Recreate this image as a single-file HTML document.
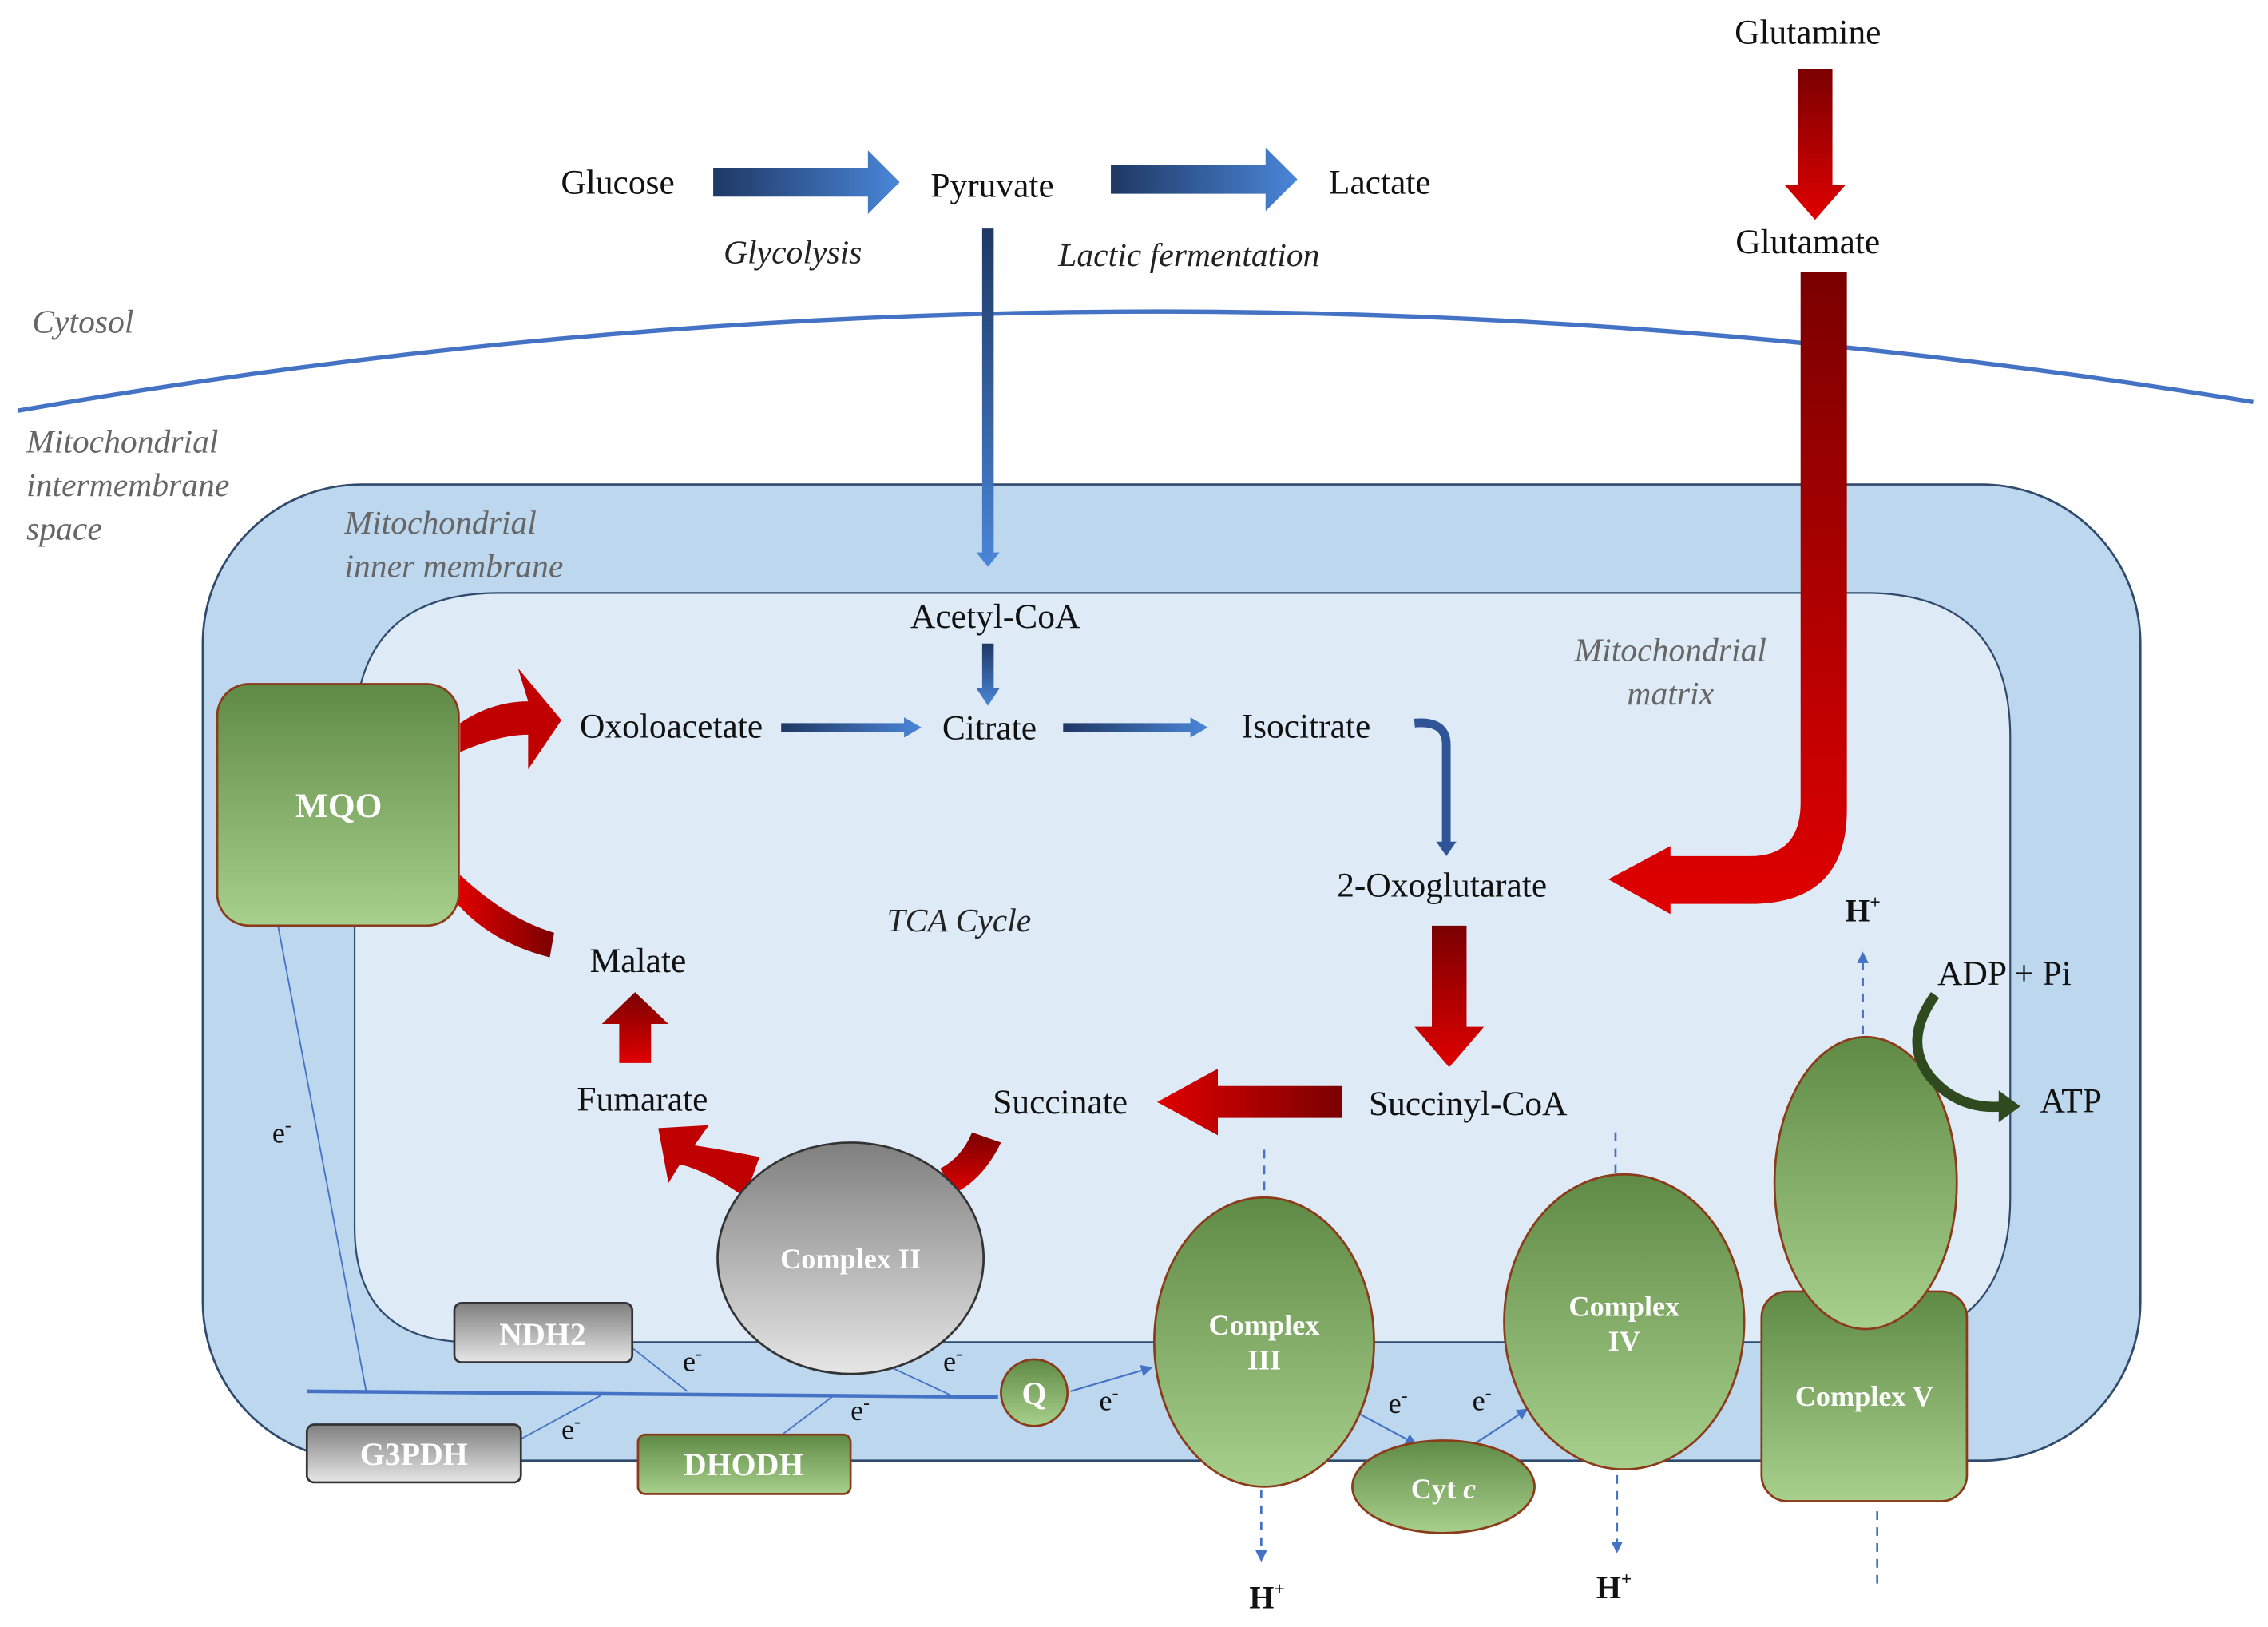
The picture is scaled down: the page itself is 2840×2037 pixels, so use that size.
<!DOCTYPE html>
<html><head><meta charset="utf-8"><style>
html,body{margin:0;padding:0;background:#fff;}
svg{display:block;}
text{font-family:"Liberation Serif",serif;}
</style></head><body>
<svg width="2840" height="2037" viewBox="0 0 1568 1125" xmlns="http://www.w3.org/2000/svg">
<defs>
<linearGradient id="bl" x1="0" x2="1" y1="0" y2="0"><stop offset="0" stop-color="#1f3864"/><stop offset="1" stop-color="#4a86d8"/></linearGradient>
<linearGradient id="blv" x1="0" x2="0" y1="0" y2="1"><stop offset="0" stop-color="#1f3864"/><stop offset="1" stop-color="#4a86d8"/></linearGradient>
<linearGradient id="rdv" x1="0" x2="0" y1="0" y2="1"><stop offset="0" stop-color="#7a0000"/><stop offset="1" stop-color="#e00000"/></linearGradient>
<linearGradient id="rdh" x1="1" x2="0" y1="0" y2="0"><stop offset="0" stop-color="#7a0000"/><stop offset="1" stop-color="#e00000"/></linearGradient>
<linearGradient id="gr" x1="0" x2="0" y1="0" y2="1"><stop offset="0" stop-color="#5f8a45"/><stop offset="1" stop-color="#a8d08d"/></linearGradient>
<linearGradient id="gy" x1="0" x2="0" y1="0" y2="1"><stop offset="0" stop-color="#7f7f7f"/><stop offset="1" stop-color="#e6e6e6"/></linearGradient>
<marker id="ab" markerWidth="8" markerHeight="8" refX="6" refY="4" orient="auto" markerUnits="userSpaceOnUse"><path d="M0,0 L8,4 L0,8 Z" fill="#4472c4"/></marker>
</defs>
<path d="M12,284 Q780,150 1558,278" fill="none" stroke="#4472c4" stroke-width="3"/>
<rect x="140" y="335" width="1340" height="675" rx="110" fill="#bdd7ee" stroke="#2f4a6d" stroke-width="1.5"/>
<path d="M245,510 Q245,410 345,410 L1290,410 Q1390,410 1390,510 L1390,828 Q1390,928 1290,928 L325,928 Q245,928 245,848 Z" fill="#deebf7" stroke="#2f4a6d" stroke-width="1.2"/>

<g font-style="italic" fill="#666" font-size="23">
<text x="22" y="230">Cytosol</text>
<text x="18" y="313">Mitochondrial</text><text x="18" y="343">intermembrane</text><text x="18" y="373">space</text>
<text x="238" y="369">Mitochondrial</text><text x="238" y="399">inner membrane</text>
<text x="1155" y="457" text-anchor="middle">Mitochondrial</text><text x="1155" y="487" text-anchor="middle">matrix</text>
</g>
<g font-style="italic" fill="#222" font-size="23">
<text x="548" y="182" text-anchor="middle">Glycolysis</text>
<text x="822" y="184" text-anchor="middle">Lactic fermentation</text>
<text x="663" y="644" text-anchor="middle">TCA Cycle</text>
</g>
<g fill="#111" font-size="24" text-anchor="middle">
<text x="427" y="134">Glucose</text><text x="686" y="136">Pyruvate</text><text x="954" y="134">Lactate</text>
<text x="1250" y="30">Glutamine</text><text x="1250" y="175">Glutamate</text>
<text x="688" y="434">Acetyl-CoA</text><text x="464" y="510">Oxoloacetate</text><text x="684" y="511">Citrate</text>
<text x="903" y="510">Isocitrate</text><text x="997" y="620">2-Oxoglutarate</text><text x="441" y="672">Malate</text>
<text x="444" y="768">Fumarate</text><text x="733" y="770">Succinate</text><text x="1015" y="771">Succinyl-CoA</text>
<text x="1386" y="681">ADP + Pi</text><text x="1432" y="769">ATP</text>
</g>

<path d="M493,116 L600,116 L600,104 L622,126 L600,148 L600,136 L493,136 Z" fill="url(#bl)"/>
<path d="M768,114 L875,114 L875,102 L897,124 L875,146 L875,134 L768,134 Z" fill="url(#bl)"/>
<g fill="url(#bl)">
<path d="M679,158 L687,158 L687,382 L691,382 L683,392 L675,382 L679,382 Z" fill="url(#blv)"/>
<path d="M679,445 L687,445 L687,476 L691,476 L683,488 L675,476 L679,476 Z" fill="url(#blv)"/>
<path d="M540,500 L625,500 L625,496 L637,503 L625,510 L625,506 L540,506 Z"/>
<path d="M735,500 L823,500 L823,496 L835,503 L823,510 L823,506 L735,506 Z"/>
</g>
<path d="M978,500 Q1000,498 1000,515 L1000,585" fill="none" stroke="#2f5597" stroke-width="6"/>
<path d="M993,582 L1007,582 L1000,592 Z" fill="#2f5597"/>

<path d="M1243,48 L1267,48 L1267,128 L1276,128 L1255,152 L1234,128 L1243,128 Z" fill="url(#rdv)"/>
<path d="M1245,188 L1277,188 L1277,560 Q1277,625 1210,625 L1155,625 L1155,632 L1112,608 L1155,585 L1155,592 L1210,592 Q1245,592 1245,555 Z" fill="url(#rdv)"/>
<path d="M990,640 L1014,640 L1014,710 L1026,710 L1002,738 L978,710 L990,710 Z" fill="url(#rdv)"/>
<path d="M928,751 L928,773 L842,773 L842,785 L800,762 L842,739 L842,751 Z" fill="url(#rdh)"/>
<path d="M428,735 L450,735 L450,708 L462,708 L439,686 L416,708 L428,708 Z" fill="url(#rdv)"/>
<path d="M318,500 Q340,485 365,485 L358,462 L388,498 L365,532 L365,508 Q345,508 318,520 Z" fill="#c00000"/>
<path d="M318,605 Q350,635 383,645 L380,662 Q340,652 316,625 Z" fill="url(#rdh)"/>
<path d="M525,800 L515,828 Q490,810 470,805 L462,818 L455,780 L490,778 L480,792 Q500,795 525,800 Z" fill="#c00000"/>
<path d="M672,783 L692,790 Q680,815 660,825 L650,808 Q665,800 672,783 Z" fill="url(#rdv)"/>

<line x1="212" y1="962" x2="690" y2="966" stroke="#4472c4" stroke-width="2.5"/>
<line x1="192" y1="640" x2="253" y2="962" stroke="#4472c4" stroke-width="1"/>
<g stroke="#4472c4" stroke-width="1">
<line x1="437" y1="932" x2="475" y2="962"/><line x1="360" y1="995" x2="415" y2="965"/>
<line x1="530" y1="1000" x2="575" y2="966"/><line x1="615" y1="945" x2="660" y2="966"/>
</g>
<line x1="740" y1="962" x2="795" y2="946" stroke="#4472c4" stroke-width="1.2" marker-end="url(#ab)"/>
<line x1="935" y1="975" x2="978" y2="998" stroke="#4472c4" stroke-width="1.2" marker-end="url(#ab)"/>
<line x1="1020" y1="998" x2="1055" y2="975" stroke="#4472c4" stroke-width="1.2" marker-end="url(#ab)"/>

<g stroke="#4472c4" stroke-width="1.5" stroke-dasharray="6,5" fill="none">
<line x1="874" y1="795" x2="874" y2="828"/><line x1="1117" y1="783" x2="1117" y2="812"/>
<line x1="872" y1="1030" x2="872" y2="1078" marker-end="url(#ab)"/>
<line x1="1118" y1="1020" x2="1118" y2="1072" marker-end="url(#ab)"/>
<line x1="1288" y1="715" x2="1288" y2="660" marker-end="url(#ab)"/>
<line x1="1298" y1="1045" x2="1298" y2="1097"/>
</g>

<rect x="150" y="473" width="167" height="167" rx="22" fill="url(#gr)" stroke="#8b3a1a" stroke-width="1.5"/>
<ellipse cx="588" cy="870" rx="92" ry="80" fill="url(#gy)" stroke="#333" stroke-width="1.5"/>
<ellipse cx="874" cy="928" rx="76" ry="100" fill="url(#gr)" stroke="#8b3a1a" stroke-width="1.5"/>
<ellipse cx="1123" cy="914" rx="83" ry="102" fill="url(#gr)" stroke="#8b3a1a" stroke-width="1.5"/>
<rect x="1218" y="893" width="142" height="145" rx="18" fill="url(#gr)" stroke="#8b3a1a" stroke-width="1.5"/>
<ellipse cx="1290" cy="818" rx="63" ry="101" fill="url(#gr)" stroke="#8b3a1a" stroke-width="1.5"/>
<ellipse cx="998" cy="1028" rx="63" ry="32" fill="url(#gr)" stroke="#8b3a1a" stroke-width="1.5"/>
<circle cx="715" cy="963" r="23" fill="url(#gr)" stroke="#8b3a1a" stroke-width="1.5"/>
<rect x="314" y="901" width="123" height="41" rx="5" fill="url(#gy)" stroke="#333" stroke-width="1.5"/>
<rect x="212" y="985" width="148" height="40" rx="5" fill="url(#gy)" stroke="#333" stroke-width="1.5"/>
<rect x="441" y="992" width="147" height="41" rx="5" fill="url(#gr)" stroke="#8b3a1a" stroke-width="1.5"/>

<path d="M1338,688 Q1315,720 1335,745 Q1355,768 1385,765" fill="none" stroke="#2e4a1e" stroke-width="7"/>
<path d="M1382,754 L1397,765 L1382,776 Z" fill="#2e4a1e"/>

<g fill="#fff" font-weight="bold" text-anchor="middle" font-size="20">
<text x="234" y="565" font-size="24">MQO</text>
<text x="588" y="877">Complex II</text>
<text x="874" y="923">Complex</text><text x="874" y="947">III</text>
<text x="1123" y="910">Complex</text><text x="1123" y="934">IV</text>
<text x="1289" y="972">Complex V</text>
<text x="998" y="1036">Cyt <tspan font-style="italic">c</tspan></text>
<text x="715" y="971" font-size="22">Q</text>
<text x="375" y="930" font-size="22">NDH2</text>
<text x="286" y="1013" font-size="22">G3PDH</text>
<text x="514" y="1020" font-size="22">DHODH</text>
</g>
<g fill="#111" font-size="20">
<text x="188" y="790">e<tspan font-size="13" dy="-8">-</tspan></text>
<text x="472" y="948">e<tspan font-size="13" dy="-8">-</tspan></text>
<text x="652" y="948">e<tspan font-size="13" dy="-8">-</tspan></text>
<text x="388" y="995">e<tspan font-size="13" dy="-8">-</tspan></text>
<text x="588" y="982">e<tspan font-size="13" dy="-8">-</tspan></text>
<text x="760" y="975">e<tspan font-size="13" dy="-8">-</tspan></text>
<text x="960" y="977">e<tspan font-size="13" dy="-8">-</tspan></text>
<text x="1018" y="975">e<tspan font-size="13" dy="-8">-</tspan></text>
</g>
<g fill="#111" font-size="22" font-weight="bold" text-anchor="middle">
<text x="876" y="1112">H<tspan font-size="13" dy="-9">+</tspan></text>
<text x="1116" y="1105">H<tspan font-size="13" dy="-9">+</tspan></text>
<text x="1288" y="637">H<tspan font-size="13" dy="-9">+</tspan></text>
</g>
</svg>
</body></html>
